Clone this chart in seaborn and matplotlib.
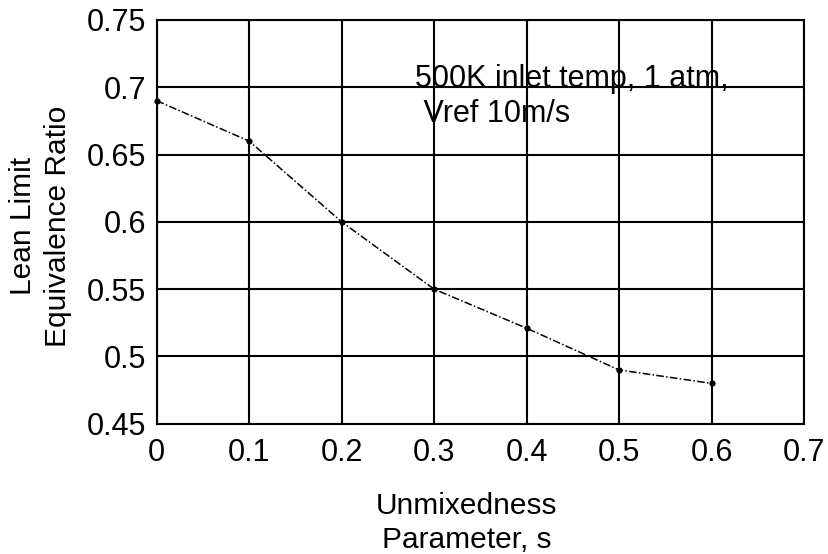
import matplotlib
matplotlib.use("Agg")
import matplotlib.pyplot as plt
import seaborn as sns
import pandas as pd

# Lean blowout limit vs. fuel-air unmixedness
unmixedness = [0.0, 0.1, 0.2, 0.3, 0.4, 0.5, 0.6]
lean_limit = [0.69, 0.66, 0.60, 0.55, 0.521, 0.49, 0.48]
x_ticks = [0, 0.1, 0.2, 0.3, 0.4, 0.5, 0.6, 0.7]
x_tick_labels = ["0", "0.1", "0.2", "0.3", "0.4", "0.5", "0.6", "0.7"]
y_ticks = [0.45, 0.5, 0.55, 0.6, 0.65, 0.7, 0.75]
y_tick_labels = ["0.45", "0.5", "0.55", "0.6", "0.65", "0.7", "0.75"]

df = pd.DataFrame({"s": unmixedness, "phi": lean_limit})

sns.set_style("white")
plt.rcParams["font.family"] = ["Liberation Sans", "DejaVu Sans"]
plt.rcParams["text.color"] = "black"

fig = plt.figure(figsize=(8.29, 5.54), dpi=100)
ax = fig.add_axes([0.189, 0.235, 0.781, 0.729])

sns.lineplot(data=df, x="s", y="phi", ax=ax, color="black", linewidth=1.1,
             linestyle=(0, (5, 1.5, 1, 1.5)), marker="o", markersize=4.5,
             markeredgewidth=0, clip_on=False)

ax.set_xlim(0, 0.7)
ax.set_ylim(0.45, 0.75)
ax.set_xticks(x_ticks)
ax.set_xticklabels(x_tick_labels)
ax.set_yticks(y_ticks)
ax.set_yticklabels(y_tick_labels)
ax.grid(True, color="black", linewidth=1.5)
ax.set_axisbelow(True)
for sp in ax.spines.values():
    sp.set_color("black")
    sp.set_linewidth(1.5)
ax.tick_params(axis="y", which="both", left=False, labelsize=22, pad=4,
               colors="black")
ax.tick_params(axis="x", which="both", bottom=False, labelsize=22, pad=7,
               colors="black")

ax.set_xlabel("Unmixedness\nParameter, s", fontsize=21.5, linespacing=1.28,
              color="black")
ax.xaxis.set_label_coords(0.479, -0.168)
ax.set_ylabel("Lean Limit\nEquivalence Ratio", fontsize=21.5, linespacing=1.3,
              color="black")
ax.yaxis.set_label_coords(-0.131, 0.49)

ax.text(0.279, 0.717, "500K inlet temp, 1 atm,\n Vref 10m/s", fontsize=22,
        va="top", ha="left", linespacing=1.22, color="black")

fig.savefig("out.png", dpi=100)
